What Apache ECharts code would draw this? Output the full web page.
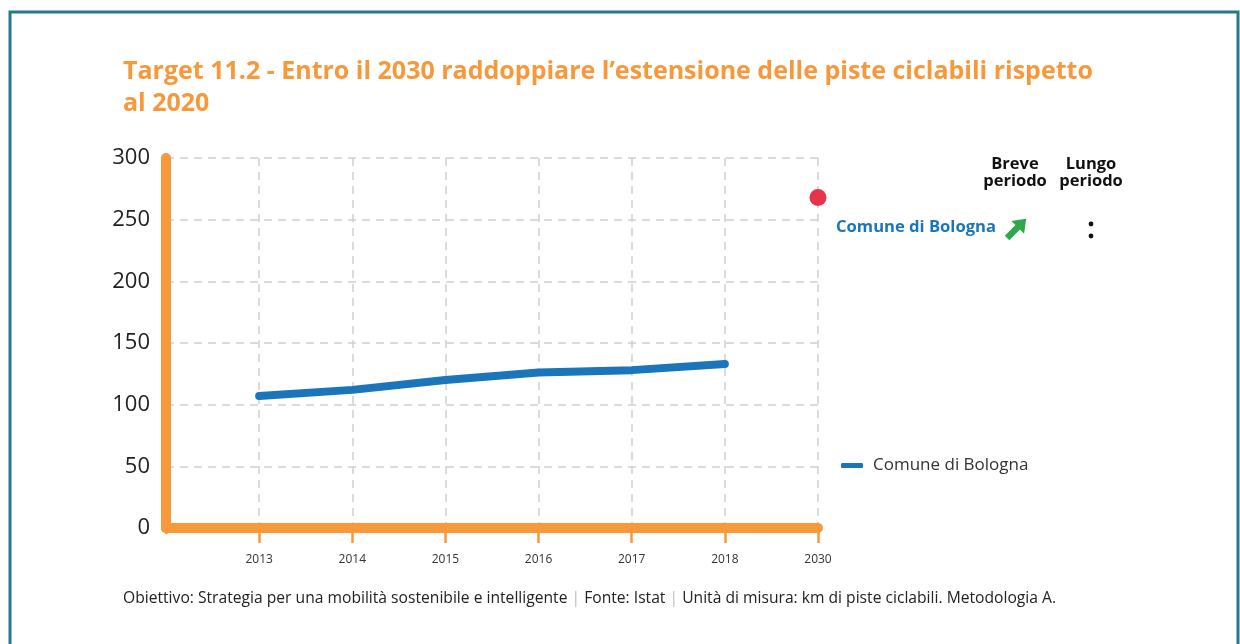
<!DOCTYPE html>
<html><head><meta charset="utf-8">
<script src="https://cdn.jsdelivr.net/npm/echarts@6/dist/echarts.min.js"></script>
<style>html,body{margin:0;padding:0;background:#fff}#c{width:1240px;height:644px}</style>
</head><body><div id="c"></div>
<script>
const categories = ['', '2013', '2014', '2015', '2016', '2017', '2018', '2030'];
const bolognaValues = [null, 107, 112, 120, 126, 128, 133, null];
const targetValues = [null, null, null, null, null, null, null, 268];
const yTicks = [0, 50, 100, 150, 200, 250, 300];
const seriesName = 'Comune di Bologna';
const titleText = 'Target 11.2 - Entro il 2030 raddoppiare l\u2019estensione delle piste ciclabili rispetto\nal 2020';

const ORANGE = '#f7993a';
const BLUE = '#1a75bb';
const FONT = '"Open Sans", "Noto Sans", sans-serif';

const chart = echarts.init(document.getElementById('c'));
chart.setOption({
  animation: false,
  textStyle: { fontFamily: FONT },
  title: {
    text: titleText, left: 118, top: 51,
    textStyle: { color: ORANGE, fontSize: 25, fontWeight: 'bold', lineHeight: 32, fontFamily: FONT }
  },
  grid: { left: 166, right: 422, top: 158, bottom: 116 },
  legend: {
    data: [seriesName], left: 836, top: 452, icon: 'roundRect', itemWidth: 22, itemHeight: 5,
    textStyle: { fontSize: 17, color: '#333', fontFamily: FONT, padding: [0, 0, 0, 5] }
  },
  xAxis: {
    type: 'category', data: categories, boundaryGap: false,
    axisLine: { lineStyle: { color: ORANGE, width: 10, cap: 'round' } },
    axisTick: { show: true, length: 15, interval: 0, lineStyle: { color: ORANGE, width: 2.5 } },
    axisLabel: { fontSize: 12, color: '#333', margin: 26, interval: 0 },
    splitLine: { show: true, interval: 0, lineStyle: { color: '#d0d0d0', type: [8, 6], width: 1.5 } }
  },
  yAxis: {
    type: 'value', min: 0, max: 300, interval: 50,
    axisLine: { show: true, lineStyle: { color: ORANGE, width: 10, cap: 'round' } },
    axisTick: { show: false },
    axisLabel: { fontSize: 22, color: '#222', margin: 16, formatter: (v) => yTicks.includes(v) ? String(v) : '' },
    splitLine: { show: true, lineStyle: { color: '#d0d0d0', type: [8, 6], width: 1.5 } }
  },
  series: [
    { name: seriesName, type: 'line', data: bolognaValues, showSymbol: false, symbol: 'none',
      lineStyle: { color: BLUE, width: 8, cap: 'round', join: 'round' }, itemStyle: { color: BLUE }, z: 5 },
    { name: 'Target 2030', type: 'scatter', data: targetValues, symbolSize: 17,
      itemStyle: { color: '#e8344a', opacity: 1 }, z: 6 }
  ],
  graphic: [
    { type: 'polyline', shape: { points: [[10, 648], [10, 12], [1238, 12], [1238, 648]] },
      style: { stroke: '#237a8b', lineWidth: 3, fill: null } },
    { type: 'rect', z: 100, shape: { x: 162, y: 534, width: 8, height: 12 }, style: { fill: '#fff' } },
    { type: 'text', style: { x: 1015, y: 156, text: 'Breve\nperiodo', align: 'center',
      font: 'bold 16.5px ' + FONT, fill: '#111', lineHeight: 17 } },
    { type: 'text', style: { x: 1091, y: 156, text: 'Lungo\nperiodo', align: 'center',
      font: 'bold 16.5px ' + FONT, fill: '#111', lineHeight: 17 } },
    { type: 'text', left: 836, top: 219, style: { text: 'Comune di Bologna', font: 'bold 16.6px ' + FONT, fill: BLUE } },
    { type: 'polygon', x: 1017, y: 228, rotation: Math.PI / 4,
      shape: { points: [[-14, -3.2], [1, -3.2], [1, -9], [13, 0], [1, 9], [1, 3.2], [-14, 3.2]] },
      style: { fill: '#2ea84a' } },
    { type: 'circle', shape: { cx: 1091, cy: 224, r: 2.4 }, style: { fill: '#111' } },
    { type: 'circle', shape: { cx: 1091, cy: 236, r: 2.4 }, style: { fill: '#111' } },
    { type: 'text', left: 123, top: 591, style: {
      rich: { t: { fontSize: 15.65, fill: '#222', fontFamily: FONT }, s: { fontSize: 15.65, fill: '#bbb', fontFamily: FONT } },
      text: '{t|Obiettivo: Strategia per una mobilità sostenibile e intelligente }{s||}{t| Fonte: Istat }{s||}{t| Unità di misura: km di piste ciclabili. Metodologia A.}' } }
  ]
});
</script></body></html>
